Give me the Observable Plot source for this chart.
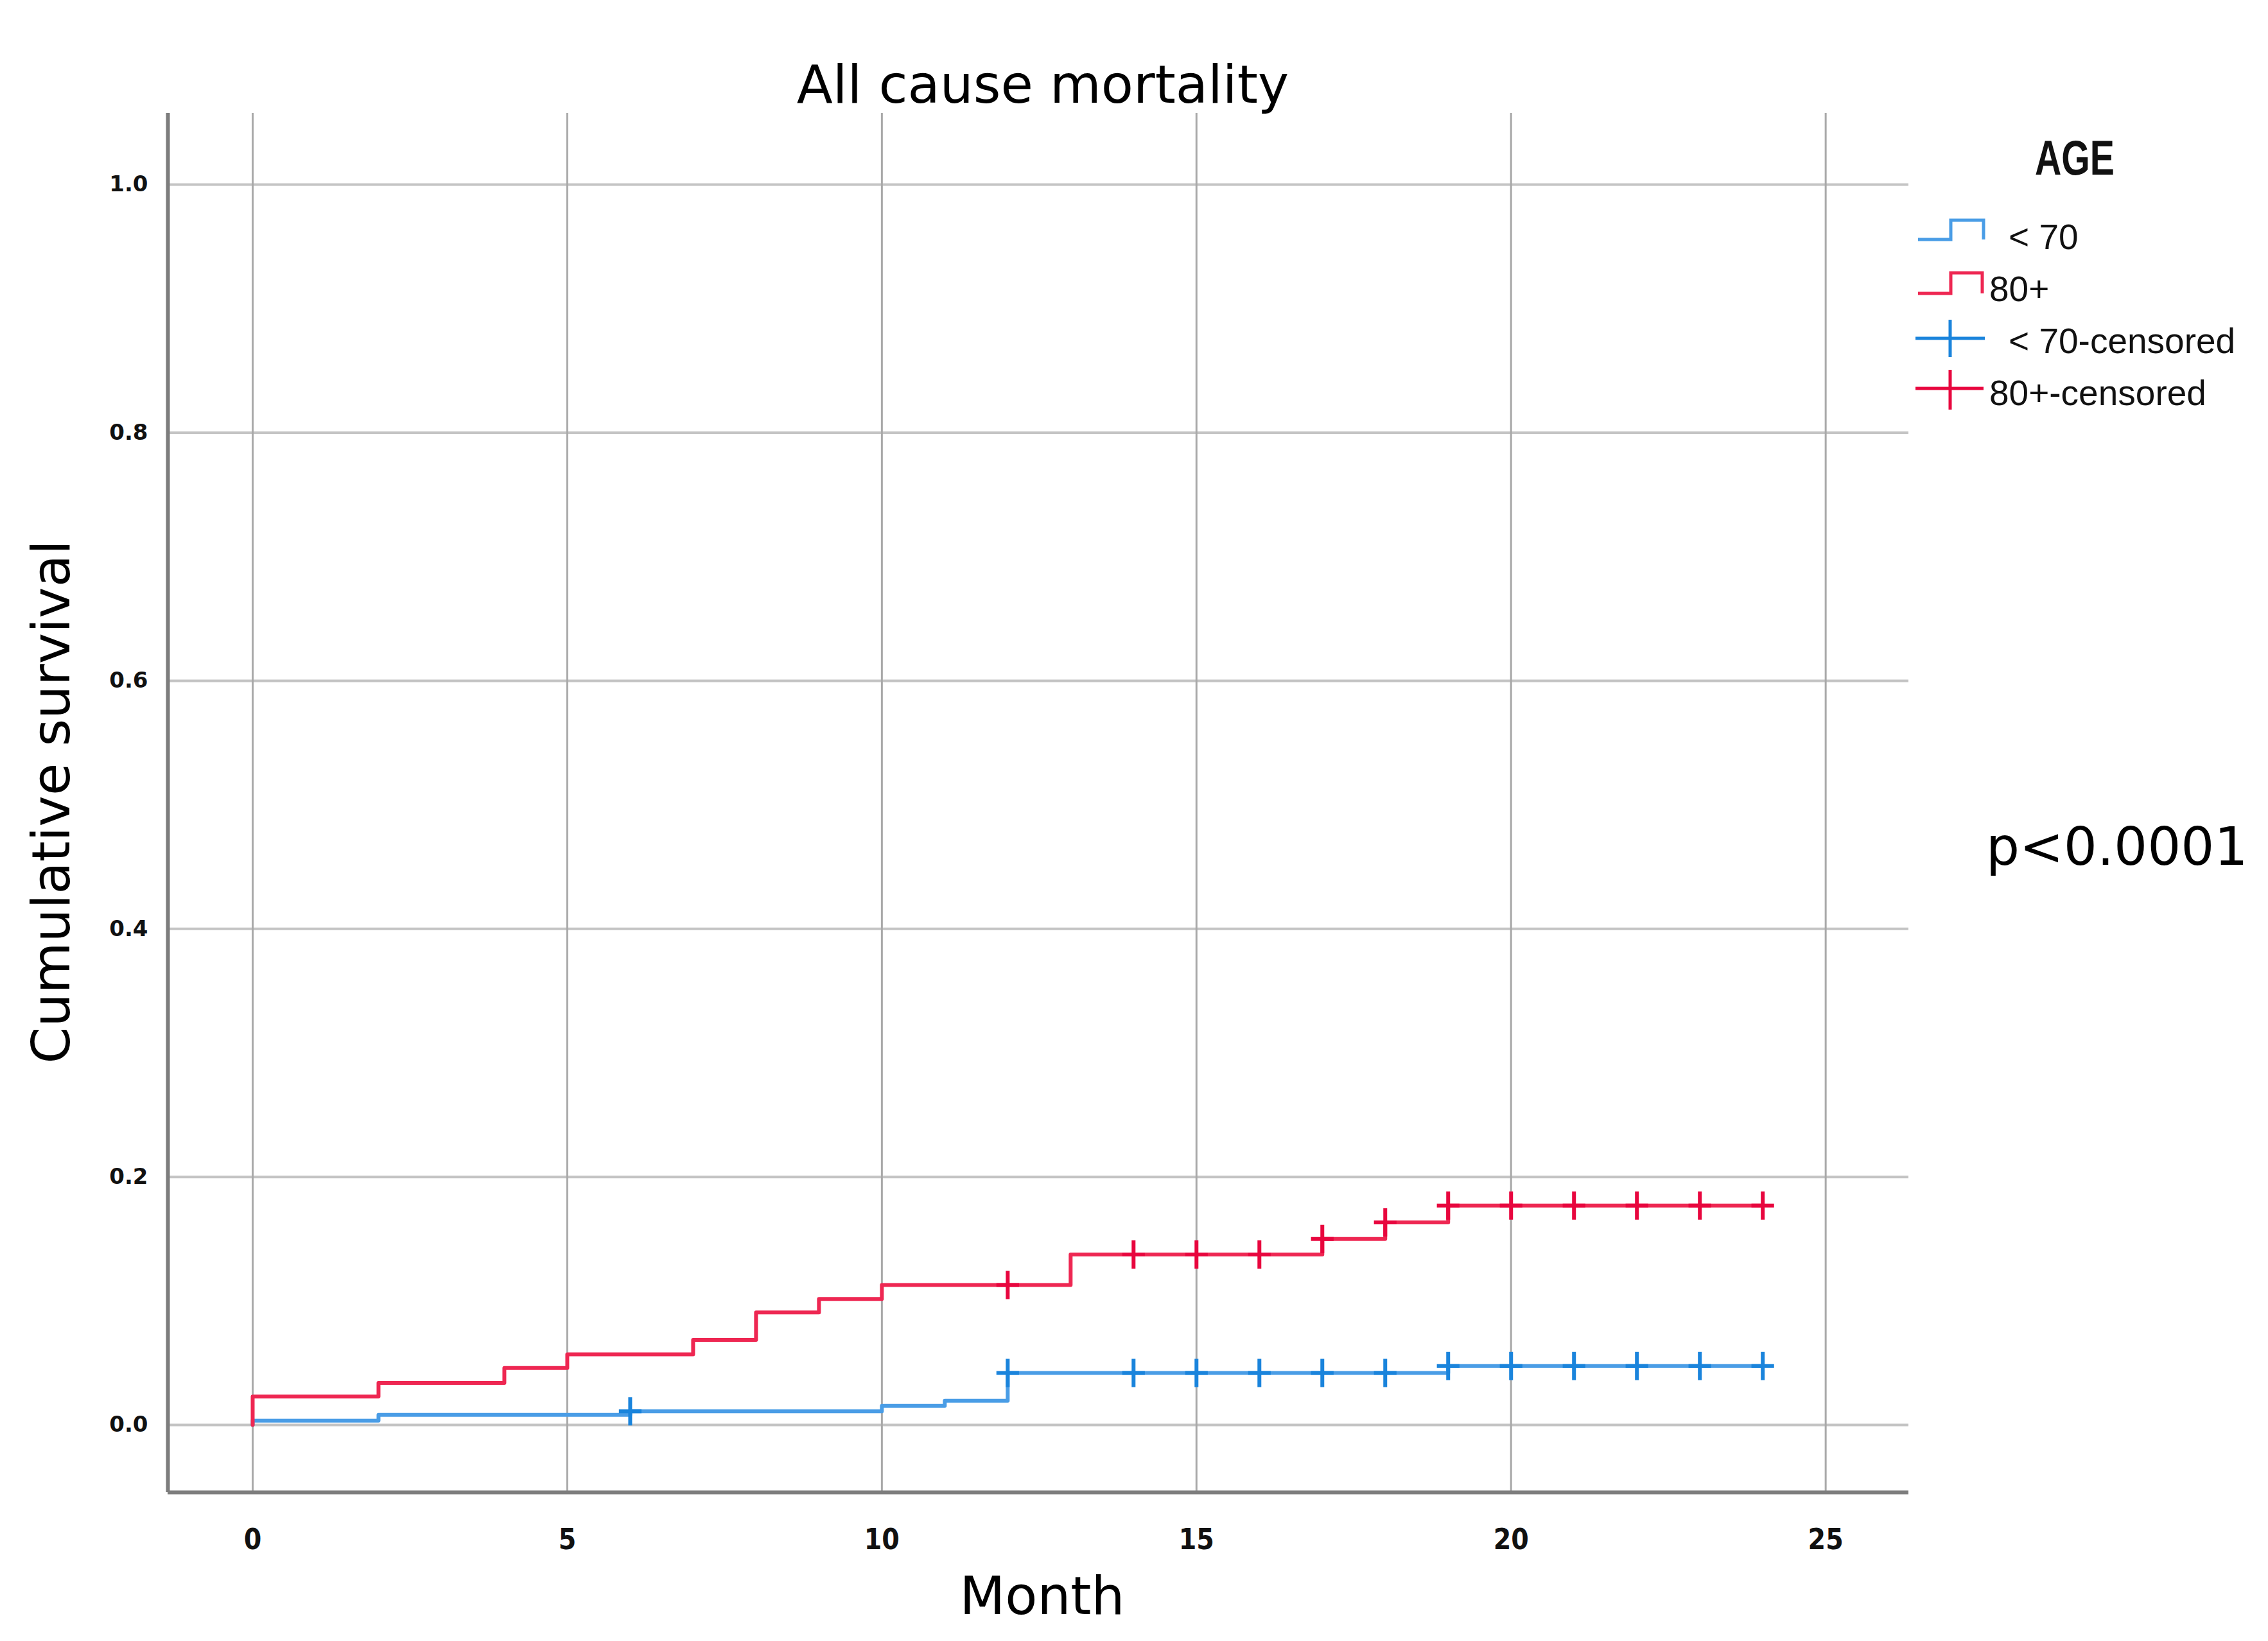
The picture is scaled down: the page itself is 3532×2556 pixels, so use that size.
<!DOCTYPE html>
<html><head><meta charset="utf-8">
<script src="https://cdn.jsdelivr.net/npm/d3@7"></script>
<script src="https://cdn.jsdelivr.net/npm/@observablehq/plot@0.6"></script>
<style>body{margin:0;background:#fff}</style>
</head><body><div id="chart"></div>
<script>
// ---- data ----
const titleText = "All cause mortality";
const xLabel = "Month";
const yLabel = "Cumulative survival";
const pText = "p<0.0001";
const legendTitle = "AGE";
const groups = ["< 70", "80+"];
const legendLabels = ["< 70", "80+", "< 70-censored", "80+-censored"];
const xTicks = [0, 5, 10, 15, 20, 25];
const yTicks = [0, 0.2, 0.4, 0.6, 0.8, 1.0];

// step curves (time in months, value)
const youngTime  = [0, 0, 2, 6, 10, 11, 12, 19, 24];
const youngValue = [0, 0.0036, 0.0082, 0.011, 0.0154, 0.0196, 0.042, 0.0475, 0.0475];
const oldTime  = [0, 0, 2, 4, 5, 7, 8, 9, 10, 13, 17, 18, 19, 24];
const oldValue = [0, 0.023, 0.034, 0.046, 0.057, 0.0686, 0.0907, 0.1016, 0.1129, 0.1375, 0.150, 0.1633, 0.177, 0.177];

// censored observations
const youngCensTime  = [6, 12, 14, 15, 16, 17, 18, 19, 20, 21, 22, 23, 24];
const youngCensValue = [0.011, 0.042, 0.042, 0.042, 0.042, 0.042, 0.042, 0.0475, 0.0475, 0.0475, 0.0475, 0.0475, 0.0475];
const oldCensTime  = [12, 14, 15, 16, 17, 18, 19, 20, 21, 22, 23, 24];
const oldCensValue = [0.1129, 0.1375, 0.1375, 0.1375, 0.150, 0.1633, 0.177, 0.177, 0.177, 0.177, 0.177, 0.177];

// ---- styling ----
const W = 3532, H = 2556;
const xDomain = [-1.347, 26.32];
const yDomain = [-0.0543, 1.0575];
const blueLine = "#4a9de6", redLine = "#ee2752";
const blueCens = "#1a84dc", redCens = "#e8063e";

const youngRows = youngTime.map((t, i) => ({t, s: youngValue[i]}));
const oldRows = oldTime.map((t, i) => ({t, s: oldValue[i]}));
const youngCens = youngCensTime.map((t, i) => ({t, s: youngCensValue[i]}));
const oldCens = oldCensTime.map((t, i) => ({t, s: oldCensValue[i]}));

const plusSymbol = {
  draw(ctx, size) {
    const r = Math.sqrt(size / Math.PI);
    ctx.moveTo(0, -r); ctx.lineTo(0, r);
    ctx.moveTo(-0.8 * r, 0); ctx.lineTo(0.8 * r, 0);
  }
};

const plot = Plot.plot({
  width: W, height: H,
  marginLeft: 261, marginRight: W - 2972, marginTop: 176, marginBottom: H - 2324,
  x: {domain: xDomain},
  y: {domain: yDomain},
  style: {background: "#fff"},
  marks: [
    Plot.ruleY(yTicks, {stroke: "#c4c4c4", strokeWidth: 4}),
    Plot.ruleX(xTicks, {stroke: "#a9a9a9", strokeWidth: 3}),
    Plot.ruleX([xDomain[0]], {stroke: "#7d7d7d", strokeWidth: 6}),
    Plot.ruleY([yDomain[0]], {stroke: "#7d7d7d", strokeWidth: 6}),
    Plot.line(youngRows, {x: "t", y: "s", curve: "step-after", stroke: blueLine, strokeWidth: 6}),
    Plot.line(oldRows, {x: "t", y: "s", curve: "step-after", stroke: redLine, strokeWidth: 6}),
    Plot.dot(youngCens, {x: "t", y: "s", symbol: plusSymbol, r: 22, fill: "none", stroke: blueCens, strokeWidth: 6}),
    Plot.dot(oldCens, {x: "t", y: "s", symbol: plusSymbol, r: 22, fill: "none", stroke: redCens, strokeWidth: 6}),
    Plot.axisX({ticks: xTicks, tickSize: 0, tickPadding: 57, label: null, tickFormat: d => String(d),
      fontSize: 44, fontWeight: "bold", fontFamily: "DejaVu Sans Condensed, Liberation Sans Narrow, sans-serif", fill: "#111"}),
    Plot.axisY({ticks: yTicks, tickSize: 0, tickPadding: 31, label: null, tickFormat: d3.format(".1f"),
      fontSize: 34, fontWeight: "bold", fontFamily: "DejaVu Sans, sans-serif", fill: "#111"})
  ]
});

const svg = d3.select(plot);
const sans = "DejaVu Sans, Verdana, sans-serif";
svg.append("text").attr("x", 1624).attr("y", 160).attr("text-anchor", "middle")
  .attr("font-family", sans).attr("font-size", 82).attr("fill", "#000").text(titleText);
svg.append("text").attr("x", 1623).attr("y", 2514).attr("text-anchor", "middle")
  .attr("font-family", sans).attr("font-size", 82).attr("fill", "#000").text(xLabel);
svg.append("text").attr("transform", "translate(108,1249) rotate(-90)").attr("text-anchor", "middle")
  .attr("font-family", sans).attr("font-size", 82).attr("fill", "#000").text(yLabel);
svg.append("text").attr("x", 3093).attr("y", 1347).attr("text-anchor", "start")
  .attr("font-family", sans).attr("font-size", 82).attr("fill", "#000").text(pText);

// legend
const lg = svg.append("g").attr("text-anchor", "start");
const legFont = "Liberation Sans, Arial, sans-serif";
lg.append("text").attr("x", 3169).attr("y", 272)
  .attr("font-family", "Liberation Sans, sans-serif").attr("font-weight", "bold")
  .attr("font-size", 76).attr("textLength", 124).attr("lengthAdjust", "spacingAndGlyphs")
  .attr("fill", "#111").text(legendTitle);
lg.append("path").attr("d", "M2987,373H3038V343H3089V373").attr("fill", "none").attr("stroke", blueLine).attr("stroke-width", 5);
lg.append("path").attr("d", "M2987,457H3038V425H3087V457").attr("fill", "none").attr("stroke", redLine).attr("stroke-width", 5);
lg.append("path").attr("d", "M2983,527H3091M3037,498V556").attr("fill", "none").attr("stroke", blueCens).attr("stroke-width", 5);
lg.append("path").attr("d", "M2983,605H3089M3037,576V638").attr("fill", "none").attr("stroke", redCens).attr("stroke-width", 5);
const legText = [[3128, 388], [3098, 469], [3128, 550], [3098, 631]];
legendLabels.forEach((t, i) => {
  lg.append("text").attr("x", legText[i][0]).attr("y", legText[i][1])
    .attr("font-family", legFont).attr("font-size", 55).attr("fill", "#111").text(t);
});

document.getElementById("chart").appendChild(plot);
</script>
</body></html>
